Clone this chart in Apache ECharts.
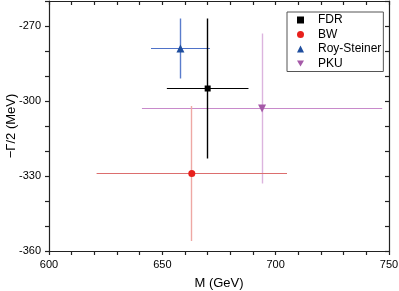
<!DOCTYPE html>
<html>
<head>
<meta charset="utf-8">
<script src="https://cdn.jsdelivr.net/npm/echarts@6/dist/echarts.min.js"></script>
<style>
html,body{margin:0;padding:0;background:#fff;}
#c{width:399px;height:291px;}
</style>
</head>
<body>
<div id="c"></div>
<script>
// Data
const names = ['FDR', 'BW', 'Roy-Steiner', 'PKU'];
const massM = [670, 663, 658, 694];
const halfWidth = [-295, -329, -279, -303];
const errM = [18, 42, 13, 53];
const errW = [28, 27, 12, 30];
const xTicks = [600, 650, 700, 750];
const yTicks = [-360, -330, -300, -270];

// Styles
const markerColors = ['#000000', '#e8201c', '#1f4e9e', '#a55aa8'];
const barColorsH = ['#000000', '#dc6e6e', '#4f72c8', '#c88acb'];
const barColorsV = ['#000000', '#eea8a4', '#5a7ccc', '#dcb4de'];
const symbols = ['rect', 'circle', 'triangle', 'triangle'];
const symbolRot = [0, 0, 0, 180];
const symbolSizes = [6, 7, 8, 8];
const legendIcons = ['rect', 'circle', 'triangle', 'path://M0,0L10,0L5,8.66Z'];
const barOrder = [3, 2, 1, 0];

const font = 'Liberation Sans, Arial, sans-serif';

function px(v) { return Math.round(v - 0.5) + 0.5; }

const series = [];
barOrder.forEach(function (i) {
  series.push({
    type: 'custom',
    silent: true,
    xAxisIndex: 0, yAxisIndex: 0,
    data: [[massM[i], halfWidth[i], errM[i], errW[i]]],
    renderItem: function (params, api) {
      const x = api.value(0), y = api.value(1), ex = api.value(2), ey = api.value(3);
      const c = api.coord([x, y]);
      const l = api.coord([x - ex, y]), r = api.coord([x + ex, y]);
      const t = api.coord([x, y + ey]), b = api.coord([x, y - ey]);
      const cx = px(c[0]), cy = px(c[1]);
      return {
        type: 'group',
        children: [
          { type: 'line', shape: { x1: l[0], y1: cy, x2: r[0], y2: cy }, style: { stroke: barColorsH[i], lineWidth: 1.2 } },
          { type: 'line', shape: { x1: cx, y1: t[1], x2: cx, y2: b[1] }, style: { stroke: barColorsV[i], lineWidth: 1.4 } }
        ]
      };
    },
    z: 2
  });
});
names.forEach(function (n, i) {
  series.push({
    name: n,
    type: 'scatter',
    xAxisIndex: 0, yAxisIndex: 0,
    data: [[massM[i], halfWidth[i]]],
    symbol: symbols[i],
    symbolRotate: symbolRot[i],
    symbolSize: symbolSizes[i],
    itemStyle: { color: markerColors[i], opacity: 1 },
    z: 5
  });
});

const axisLineStyle = { color: '#222', width: 1.2 };

const option = {
  animation: false,
  backgroundColor: '#fff',
  grid: { left: 49, right: 10, top: 1, bottom: 40, containLabel: false, outerBoundsMode: 'none' },
  legend: {
    orient: 'vertical',
    left: 287, top: 12,
    padding: [1, 2, 1, 10],
    itemWidth: 7, itemHeight: 7,
    itemGap: 0.5,
    borderColor: '#555', borderWidth: 1,
    backgroundColor: '#fff',
    data: names.map(function (n, i) { return { name: n, icon: legendIcons[i] }; }),
    textStyle: { fontFamily: font, fontSize: 12, color: '#000', lineHeight: 14, padding: [0, 0, 0, 9] }
  },
  xAxis: [{
    type: 'value', position: 'bottom',
    min: xTicks[0], max: xTicks[xTicks.length - 1], interval: 10,
    name: 'M (GeV)', nameLocation: 'middle', nameGap: 26, nameMoveOverlap: false,
    nameTextStyle: { fontFamily: font, fontSize: 13, color: '#000' },
    axisLine: { show: true, onZero: false, lineStyle: axisLineStyle },
    axisTick: { show: true, inside: false, length: 4, lineStyle: axisLineStyle },
    axisLabel: {
      fontFamily: font, fontSize: 11, color: '#000', margin: 8,
      formatter: function (v) { return xTicks.indexOf(v) >= 0 ? String(v) : ''; }
    },
    splitLine: { show: false }
  }, {
    type: 'value', position: 'top',
    min: xTicks[0], max: xTicks[xTicks.length - 1], interval: 10,
    axisLine: { show: true, onZero: false, lineStyle: axisLineStyle },
    axisTick: { show: true, inside: true, length: 4, lineStyle: axisLineStyle },
    axisLabel: { show: false },
    splitLine: { show: false }
  }],
  yAxis: [{
    type: 'value', position: 'left',
    min: yTicks[0], max: -260, interval: 10,
    name: '\u2212\u0393/2 (MeV)', nameLocation: 'middle', nameGap: 31, nameRotate: 90, nameMoveOverlap: false,
    nameTextStyle: { fontFamily: font, fontSize: 13, color: '#000' },
    axisLine: { show: true, onZero: false, lineStyle: axisLineStyle },
    axisTick: { show: true, inside: false, length: 4, lineStyle: axisLineStyle },
    axisLabel: {
      fontFamily: font, fontSize: 11, color: '#000', margin: 8,
      formatter: function (v) { return yTicks.indexOf(v) >= 0 ? String(v) : ''; }
    },
    splitLine: { show: false }
  }, {
    type: 'value', position: 'right',
    min: yTicks[0], max: -260, interval: 10,
    axisLine: { show: true, onZero: false, lineStyle: axisLineStyle },
    axisTick: { show: true, inside: true, length: 4, lineStyle: axisLineStyle },
    axisLabel: { show: false },
    splitLine: { show: false }
  }],
  series: series
};

const chart = echarts.init(document.getElementById('c'), null, { renderer: 'canvas' });
chart.setOption(option);
</script>
</body>
</html>
